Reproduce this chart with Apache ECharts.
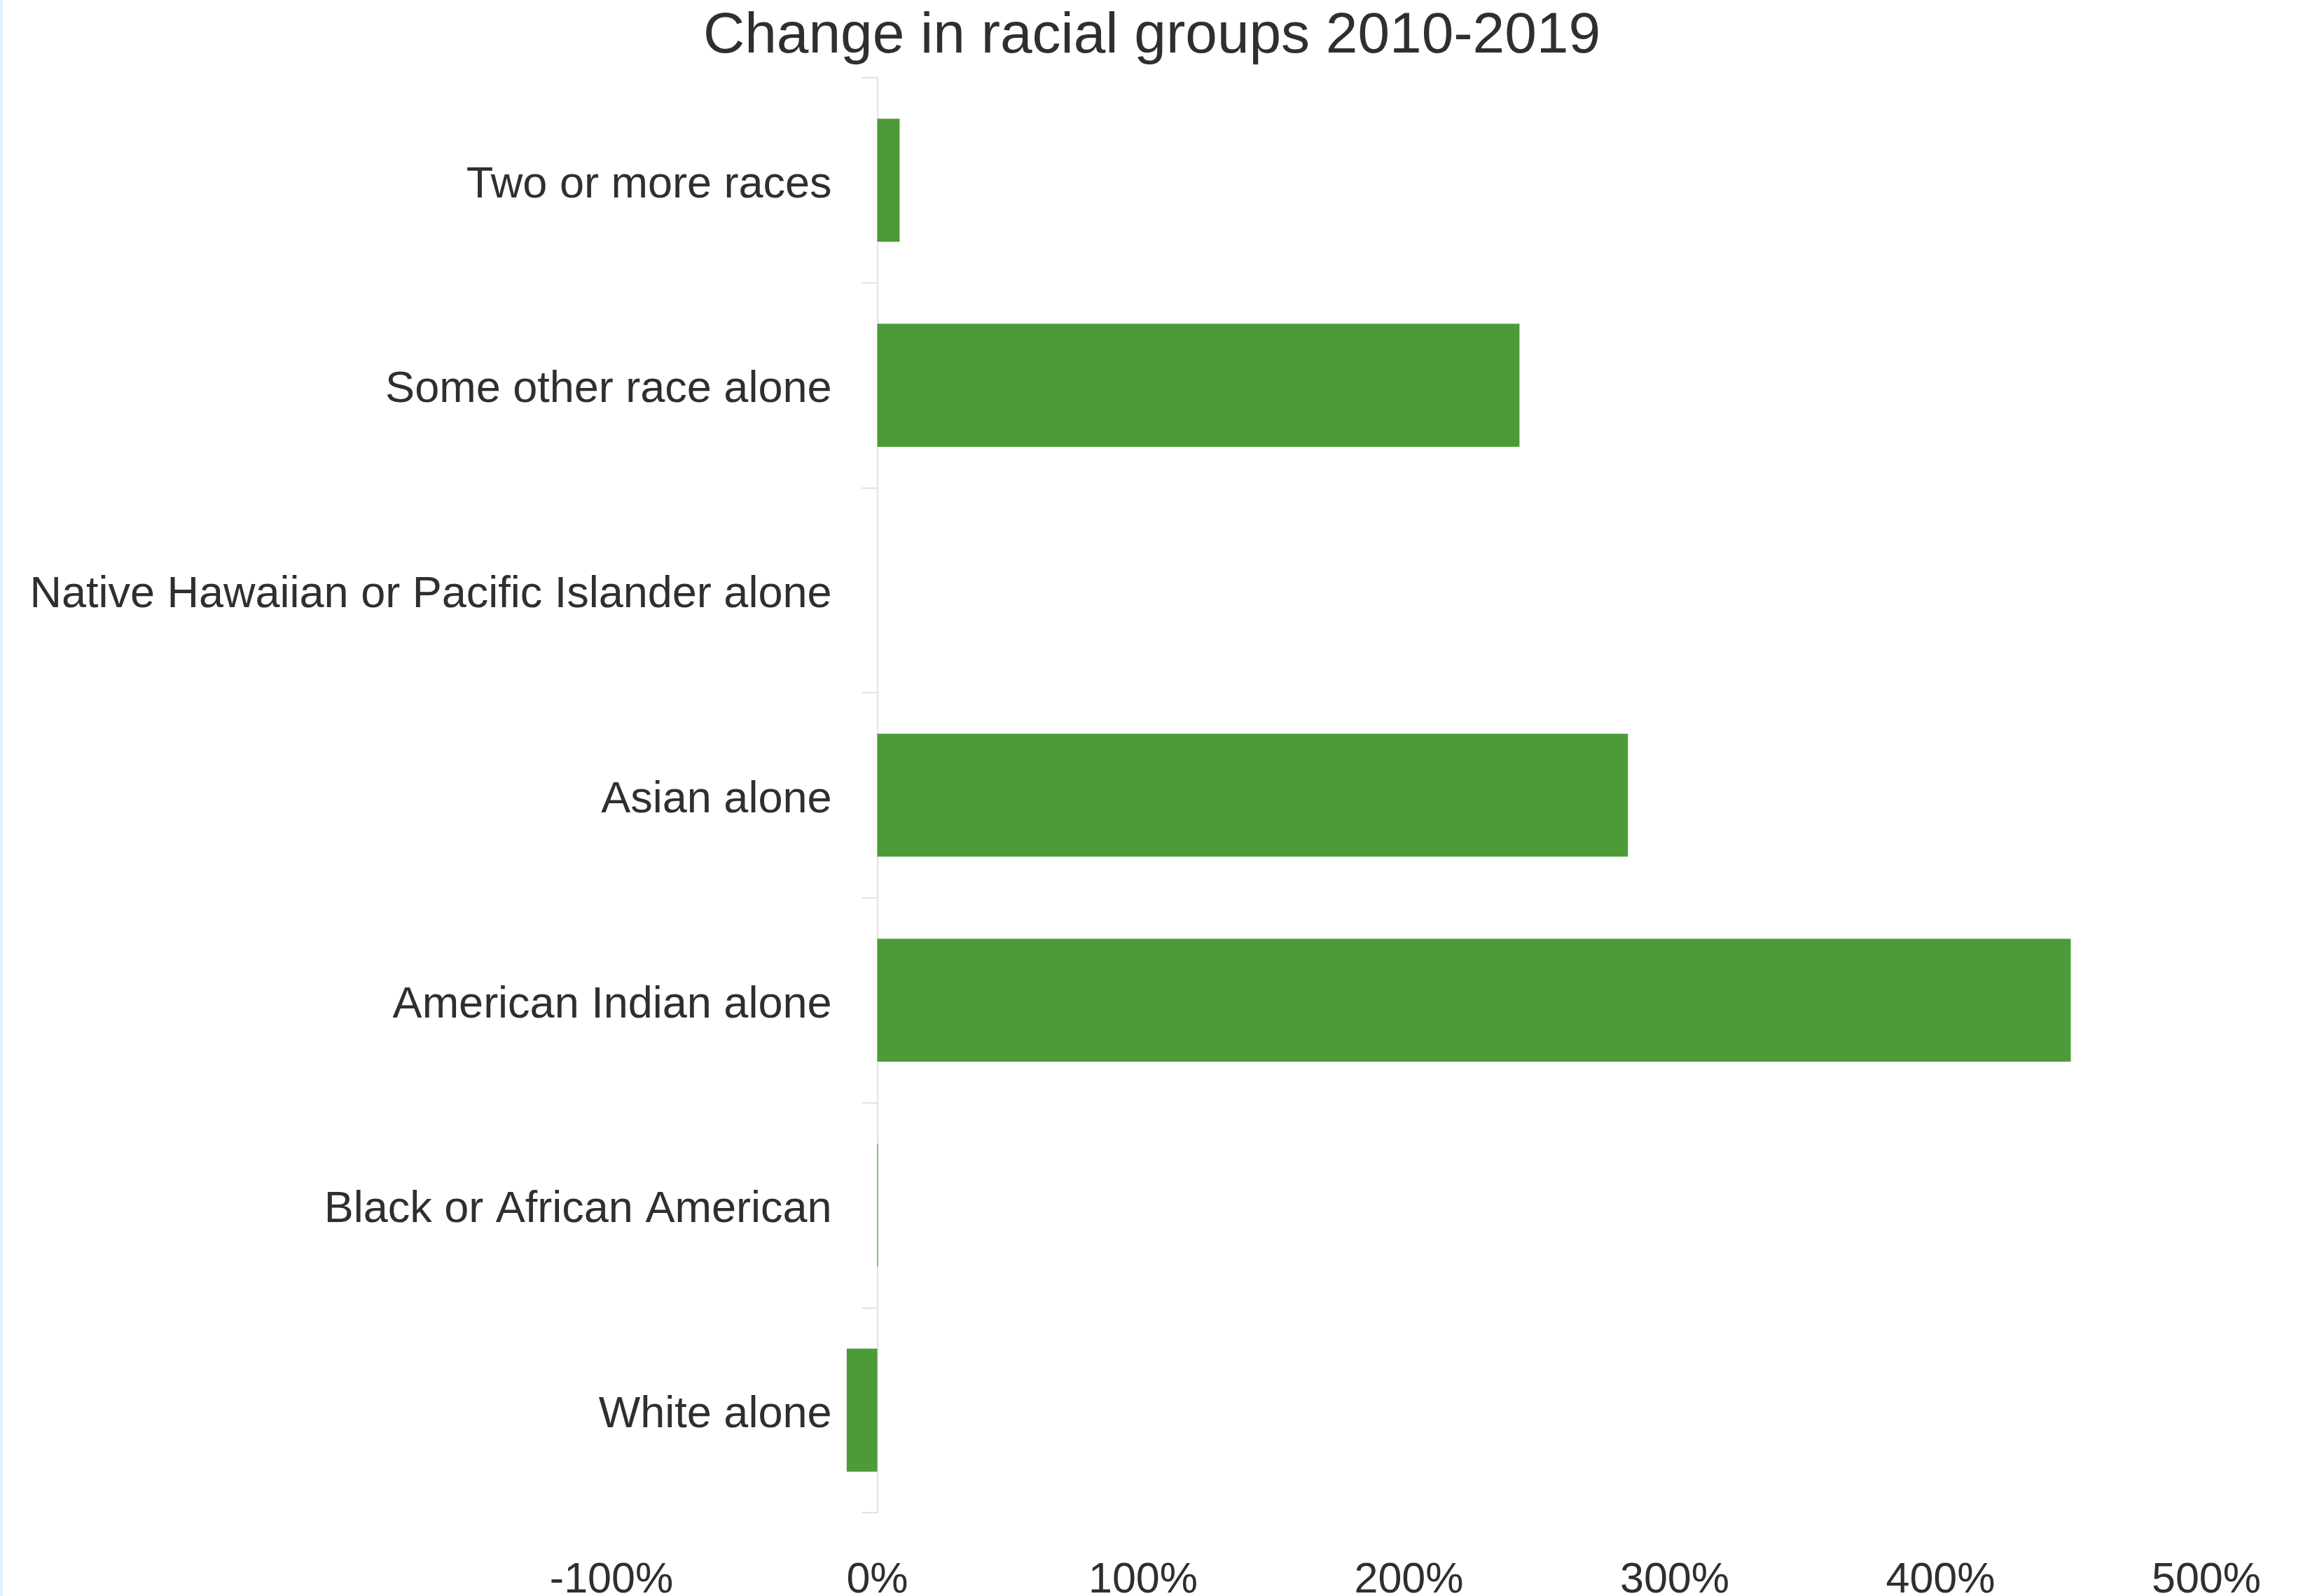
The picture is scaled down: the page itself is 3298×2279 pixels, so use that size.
<!DOCTYPE html>
<html>
<head>
<meta charset="utf-8">
<script src="https://cdn.jsdelivr.net/npm/echarts@6/dist/echarts.min.js"></script>
<style>
  html, body { margin: 0; padding: 0; background: #ffffff; }
  #chart { width: 3294px; height: 2279px; border-left: 4px solid #e1effa; }
</style>
</head>
<body>
<div id="chart"></div>
<script>
// Racial groups, listed bottom to top as drawn on the category axis
const categories = [
  'White alone',
  'Black or African American',
  'American Indian alone',
  'Asian alone',
  'Native Hawaiian or Pacific Islander alone',
  'Some other race alone',
  'Two or more races'
];
// Percent change 2010-2019
const changePct = [-11.5, 0.3, 449, 282.4, 0, 241.6, 8.4];
// Value axis ticks
const xTicks = { min: -100, max: 500, step: 100 };

const FONT = '"Liberation Sans", Arial, sans-serif';
const TEXT = '#2f2f2f';

const GRID_LEFT = 869;
const GRID_RIGHT = 148;
const CHART_W = 3294;

// Shift the category axis so it sits on the 0% position of the value axis
const plotW = CHART_W - GRID_LEFT - GRID_RIGHT;
const zeroOffset = plotW * (0 - xTicks.min) / (xTicks.max - xTicks.min);

const chart = echarts.init(document.getElementById('chart'));
chart.setOption({
  animation: false,
  backgroundColor: '#ffffff',
  title: {
    text: 'Change in racial groups 2010-2019',
    left: 995,
    top: 6,
    textStyle: { fontFamily: FONT, fontSize: 82, fontWeight: 'normal', color: TEXT }
  },
  grid: {
    left: GRID_LEFT, right: GRID_RIGHT, top: 111, bottom: 119,
    containLabel: false,
    outerBoundsMode: 'none'
  },
  xAxis: {
    type: 'value',
    min: xTicks.min,
    max: xTicks.max,
    interval: xTicks.step,
    axisLine: { show: false },
    axisTick: { show: false },
    splitLine: { show: false },
    axisLabel: {
      formatter: '{value}%',
      margin: 67,
      fontFamily: FONT,
      fontSize: 61,
      color: TEXT
    }
  },
  yAxis: {
    type: 'category',
    data: categories,
    offset: -zeroOffset,
    axisLine: { onZero: false, lineStyle: { color: '#e2e2e2', width: 2 } },
    axisTick: { show: true, length: 22, lineStyle: { color: '#e2e2e2', width: 2 } },
    axisLabel: {
      margin: 65,
      formatter: (v) => '{c|' + v + '}',
      rich: {
        c: {
          fontFamily: FONT,
          fontSize: 63,
          color: TEXT,
          padding: [14, 0, 0, 0]
        }
      }
    }
  },
  series: [{
    type: 'bar',
    data: changePct,
    barCategoryGap: '40%',
    itemStyle: { color: '#4d9a38' }
  }]
});
</script>
</body>
</html>
